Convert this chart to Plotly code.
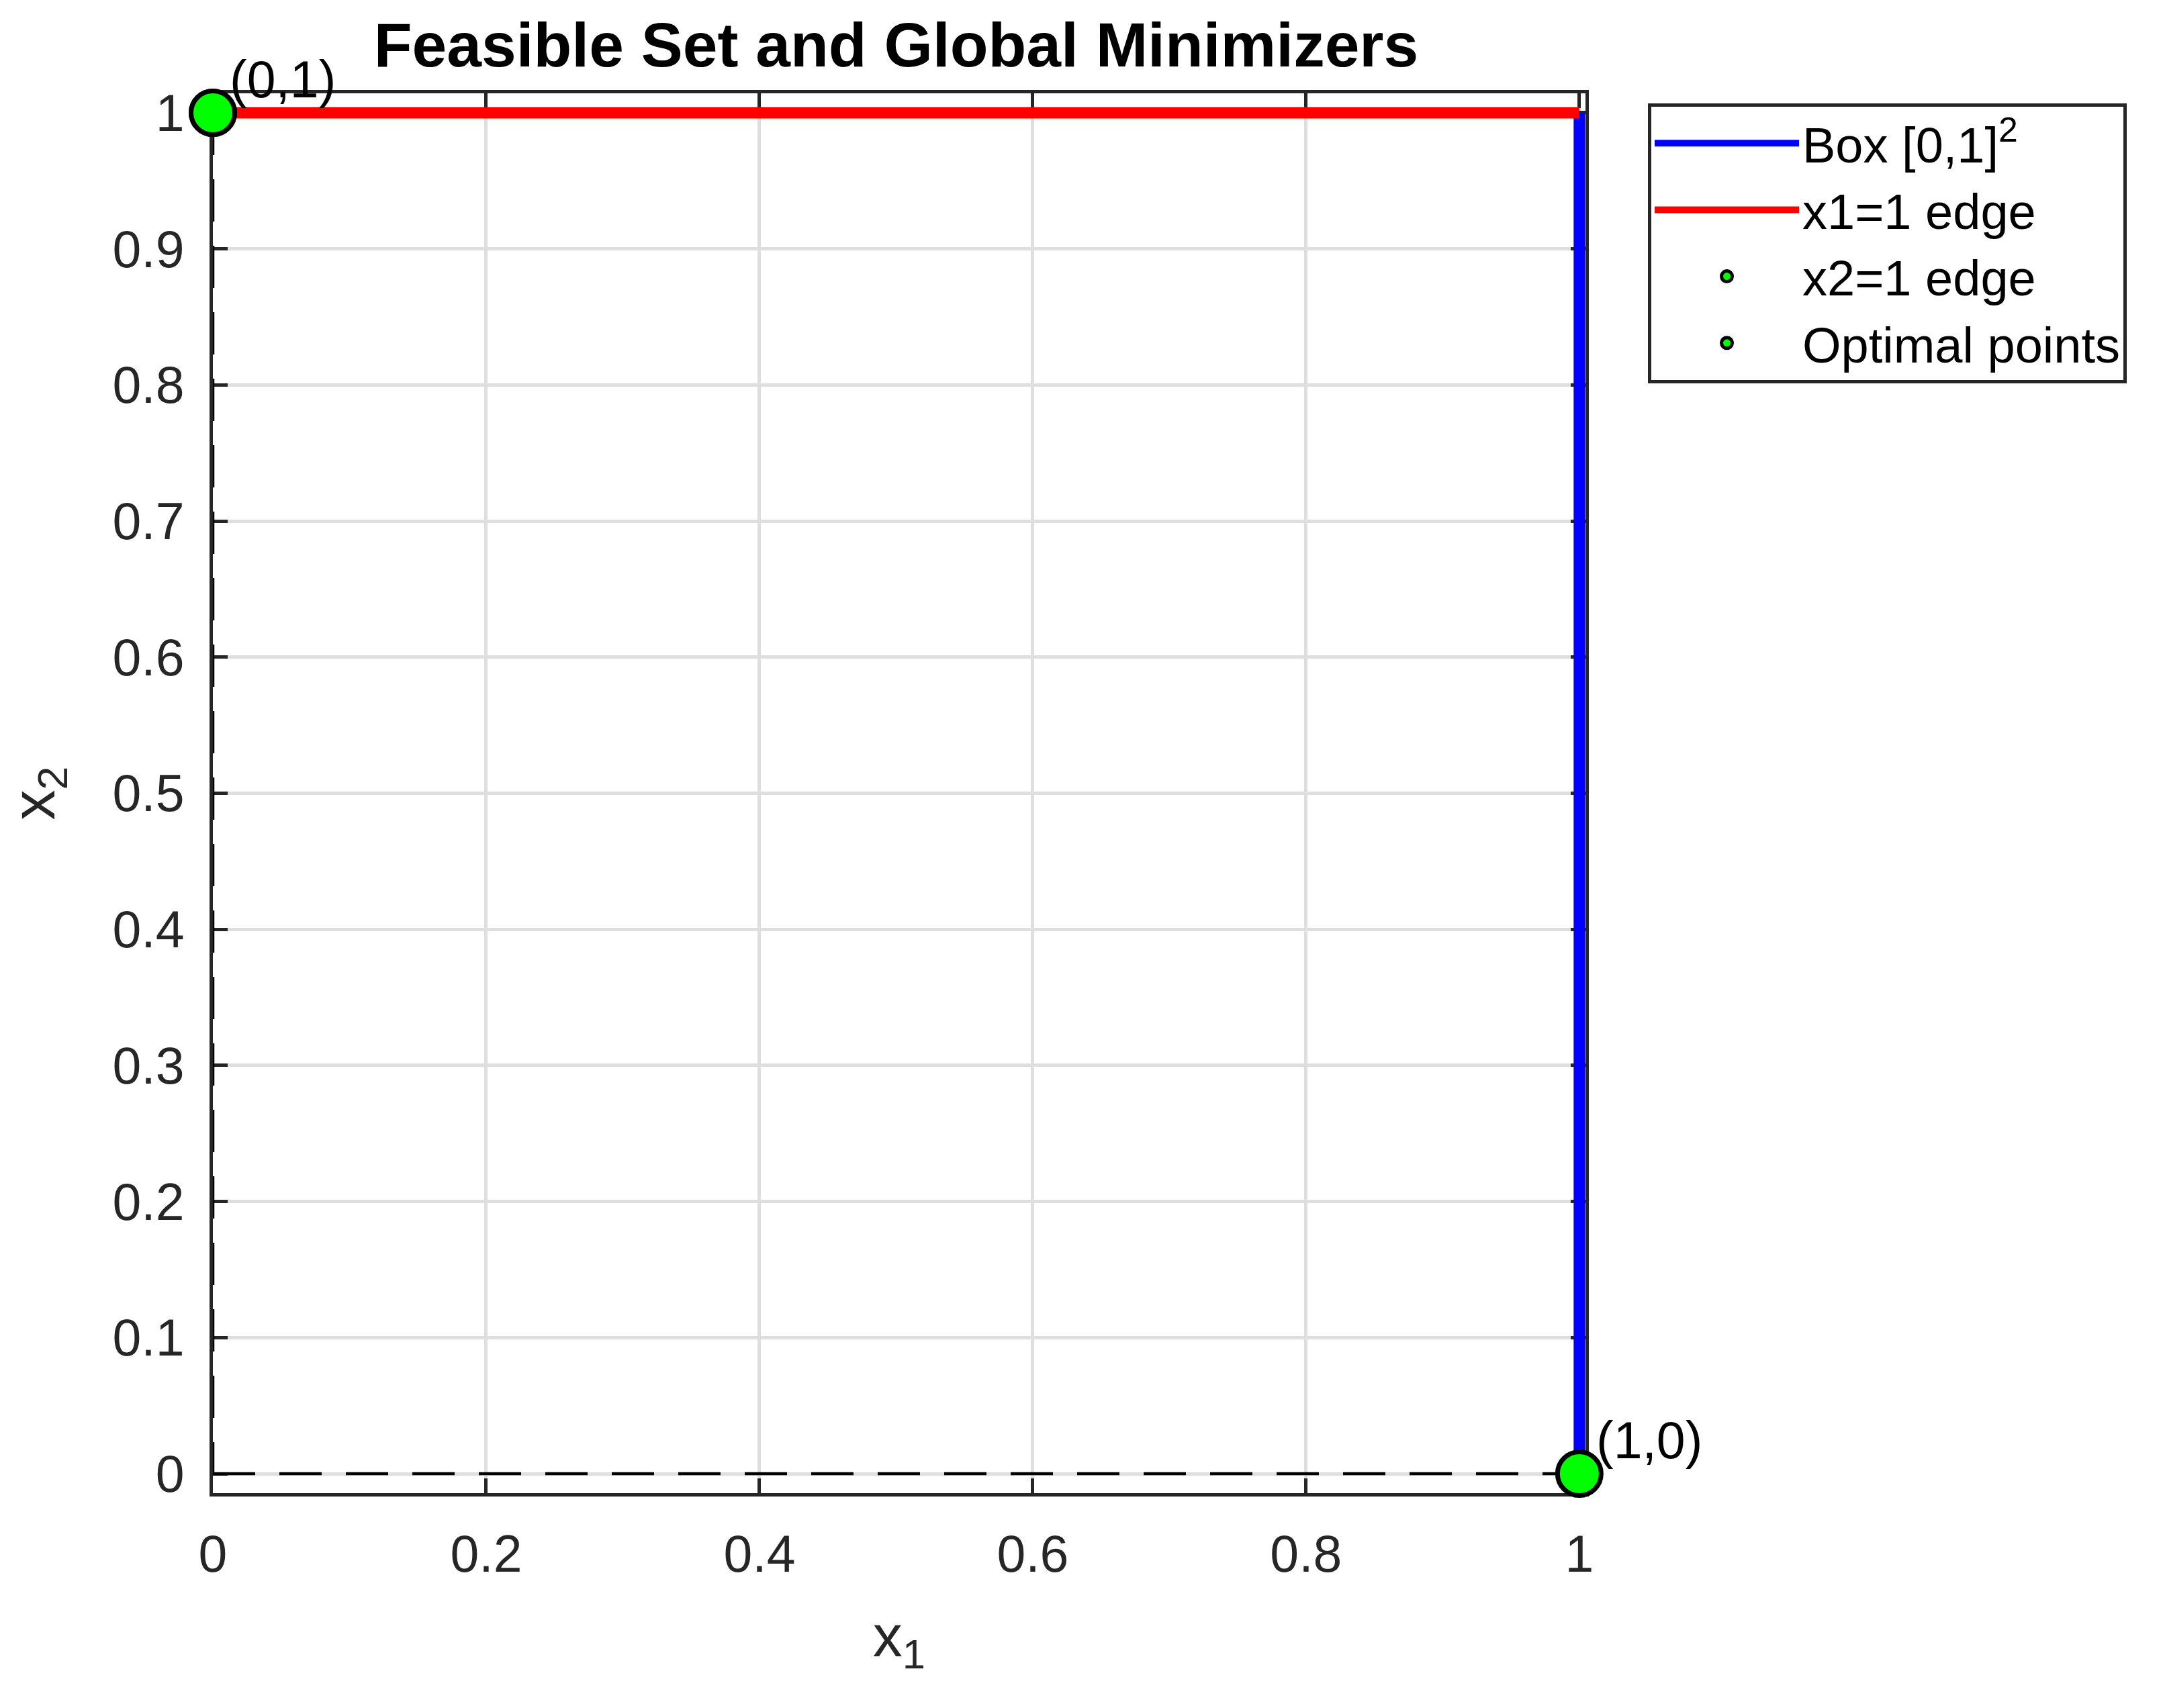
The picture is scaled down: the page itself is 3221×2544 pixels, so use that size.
import plotly.graph_objects as go

# ---- data ----
x_tick_vals = [0, 0.2, 0.4, 0.6, 0.8, 1]
x_tick_text = ["0", "0.2", "0.4", "0.6", "0.8", "1"]
y_tick_vals = [0, 0.1, 0.2, 0.3, 0.4, 0.5, 0.6, 0.7, 0.8, 0.9, 1]
y_tick_text = ["0", "0.1", "0.2", "0.3", "0.4", "0.5", "0.6", "0.7", "0.8", "0.9", "1"]

box_x = [1, 1]
box_y = [0, 1]
edge1_x = [0, 1]
edge1_y = [1, 1]
dash_h_x = [0, 1]
dash_h_y = [0, 0]
dash_v_x = [0, 0]
dash_v_y = [1, 0]
edge2_x = [0]
edge2_y = [1]
opt_x = [0, 1]
opt_y = [1, 0]
opt_labels = ["(0,1)", "(1,0)"]

series_names = ["Box [0,1]<sup>2</sup>", "x1=1 edge", "x2=1 edge", "Optimal points"]

FONT = "Arial, 'Liberation Sans', Helvetica, sans-serif"
AX = "#262626"

fig = go.Figure()

fig.add_trace(go.Scatter(x=box_x, y=box_y, mode="lines", name=series_names[0],
                         line=dict(color="#0000FF", width=17), cliponaxis=False))
fig.add_trace(go.Scatter(x=edge1_x, y=edge1_y, mode="lines", name=series_names[1],
                         line=dict(color="#FF0000", width=17), cliponaxis=False))
fig.add_trace(go.Scatter(x=dash_h_x, y=dash_h_y, mode="lines", showlegend=False,
                         line=dict(color="#000000", width=4.5, dash="63px,36px"), cliponaxis=False))
fig.add_trace(go.Scatter(x=dash_v_x, y=dash_v_y, mode="lines", showlegend=False,
                         line=dict(color="#000000", width=4.5, dash="63px,36px"), cliponaxis=False))
fig.add_trace(go.Scatter(x=edge2_x, y=edge2_y, mode="markers", name=series_names[2],
                         marker=dict(color="#00FF00", size=65, line=dict(color="#000000", width=7)),
                         cliponaxis=False))
fig.add_trace(go.Scatter(x=opt_x, y=opt_y, mode="markers", name=series_names[3],
                         marker=dict(color="#00FF00", size=65, line=dict(color="#000000", width=7)),
                         cliponaxis=False))

for xv, yv, lab in zip(opt_x, opt_y, opt_labels):
    fig.add_annotation(x=xv, y=yv, xref="x", yref="y", text=lab, showarrow=False,
                       xanchor="left", yanchor="middle", xshift=23, yshift=50,
                       font=dict(family=FONT, size=77, color="#000000"))

axis_common = dict(
    ticks="inside", ticklen=22, tickwidth=5, tickcolor=AX,
    showline=True, linewidth=5, linecolor=AX, mirror="ticks",
    showgrid=True, gridcolor="#dfdfdf", gridwidth=5, zeroline=False,
    tickfont=dict(family=FONT, size=77, color=AX), layer="below traces",
)

fig.update_xaxes(range=[0, 1.0045], tickmode="array", tickvals=x_tick_vals, ticktext=x_tick_text,
                 ticklabelstandoff=20,
                 title=dict(text="x<sub>1</sub>", font=dict(family=FONT, size=88, color=AX), standoff=50),
                 **axis_common)
fig.update_yaxes(range=[-0.0143, 1.0143], tickmode="array", tickvals=y_tick_vals, ticktext=y_tick_text,
                 ticklabelstandoff=22,
                 title=dict(text="x<sub>2</sub>", font=dict(family=FONT, size=90, color=AX), standoff=60),
                 **axis_common)

fig.update_layout(
    width=3221, height=2544, autosize=False,
    margin=dict(l=317, r=860, t=139, b=320, pad=0),
    paper_bgcolor="white", plot_bgcolor="white",
    title=dict(text="Feasible Set and Global Minimizers", x=(1334.5 - 317) / 2044, xref="paper",
               xanchor="center", y=1 - 66 / 2544, yref="container", yanchor="middle",
               font=dict(family=FONT, size=93, color="#000000", weight="bold")),
    legend=dict(x=1.0455, y=0.993, xanchor="left", yanchor="top", xref="paper", yref="paper",
                bordercolor=AX, borderwidth=5, bgcolor="white",
                font=dict(family=FONT, size=74, color="#000000"), itemwidth=215,
                itemsizing="trace"),
    showlegend=True,
)

fig.write_html("out.html", config={"displayModeBar": False},
               post_script="document.body.style.margin='0';")
